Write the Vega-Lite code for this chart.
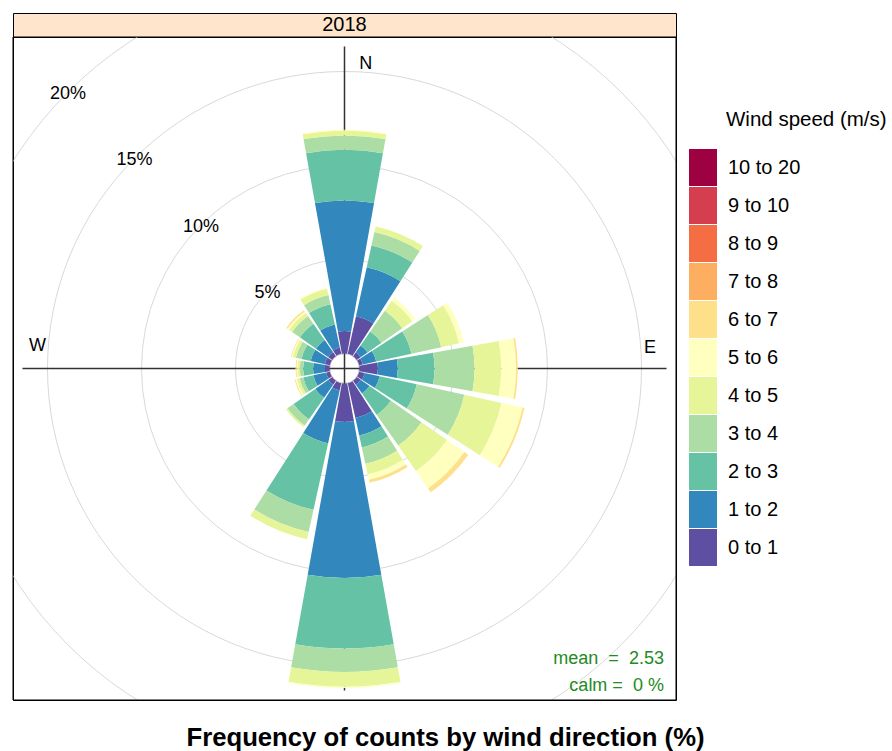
{
  "$schema": "https://vega.github.io/schema/vega-lite/v6.json",
  "background": "white",
  "padding": {"left": 12, "top": 12, "right": 0, "bottom": 0},
  "config": {"font": "Liberation Sans", "view": {"stroke": "black", "strokeWidth": 1}},
  "title": {"text": "Frequency of counts by wind direction (%)", "orient": "bottom", "anchor": "middle", "frame": "bounds", "fontSize": 25.7, "fontWeight": "bold", "color": "black", "baseline": "alphabetic", "offset": 45, "dx": -4},
  "spacing": 0,
  "bounds": "flush",
  "datasets": {
    "rose": [
      {"dir": 0, "speed": "0 to 1", "freq": 1.19}, {"dir": 0, "speed": "1 to 2", "freq": 6.95}, {"dir": 0, "speed": "2 to 3", "freq": 2.69}, {"dir": 0, "speed": "3 to 4", "freq": 0.77}, {"dir": 0, "speed": "4 to 5", "freq": 0.26}, {"dir": 0, "speed": "5 to 6", "freq": 0.04},
      {"dir": 22.5, "speed": "0 to 1", "freq": 2.05}, {"dir": 22.5, "speed": "1 to 2", "freq": 2.67}, {"dir": 22.5, "speed": "2 to 3", "freq": 1.18}, {"dir": 22.5, "speed": "3 to 4", "freq": 0.73}, {"dir": 22.5, "speed": "4 to 5", "freq": 0.31},
      {"dir": 45, "speed": "0 to 1", "freq": 0.25}, {"dir": 45, "speed": "1 to 2", "freq": 0.45}, {"dir": 45, "speed": "2 to 3", "freq": 0.9}, {"dir": 45, "speed": "3 to 4", "freq": 1.35}, {"dir": 45, "speed": "4 to 5", "freq": 0.65}, {"dir": 45, "speed": "5 to 6", "freq": 0.2},
      {"dir": 67.5, "speed": "0 to 1", "freq": 0.2}, {"dir": 67.5, "speed": "1 to 2", "freq": 0.73}, {"dir": 67.5, "speed": "2 to 3", "freq": 1.92}, {"dir": 67.5, "speed": "3 to 4", "freq": 1.62}, {"dir": 67.5, "speed": "4 to 5", "freq": 0.97}, {"dir": 67.5, "speed": "5 to 6", "freq": 0.26},
      {"dir": 90, "speed": "0 to 1", "freq": 0.98}, {"dir": 90, "speed": "1 to 2", "freq": 1.06}, {"dir": 90, "speed": "2 to 3", "freq": 1.95}, {"dir": 90, "speed": "3 to 4", "freq": 2.13}, {"dir": 90, "speed": "4 to 5", "freq": 1.42}, {"dir": 90, "speed": "5 to 6", "freq": 0.79}, {"dir": 90, "speed": "6 to 7", "freq": 0.09},
      {"dir": 112.5, "speed": "0 to 1", "freq": 0.3}, {"dir": 112.5, "speed": "1 to 2", "freq": 0.82}, {"dir": 112.5, "speed": "2 to 3", "freq": 2.02}, {"dir": 112.5, "speed": "3 to 4", "freq": 2.59}, {"dir": 112.5, "speed": "4 to 5", "freq": 2.02}, {"dir": 112.5, "speed": "5 to 6", "freq": 1.15}, {"dir": 112.5, "speed": "6 to 7", "freq": 0.1},
      {"dir": 135, "speed": "0 to 1", "freq": 0.25}, {"dir": 135, "speed": "1 to 2", "freq": 0.58}, {"dir": 135, "speed": "2 to 3", "freq": 1.38}, {"dir": 135, "speed": "3 to 4", "freq": 1.99}, {"dir": 135, "speed": "4 to 5", "freq": 1.65}, {"dir": 135, "speed": "5 to 6", "freq": 1.13}, {"dir": 135, "speed": "6 to 7", "freq": 0.25},
      {"dir": 157.5, "speed": "0 to 1", "freq": 1.9}, {"dir": 157.5, "speed": "1 to 2", "freq": 0.95}, {"dir": 157.5, "speed": "2 to 3", "freq": 0.65}, {"dir": 157.5, "speed": "3 to 4", "freq": 0.89}, {"dir": 157.5, "speed": "4 to 5", "freq": 0.57}, {"dir": 157.5, "speed": "5 to 6", "freq": 0.3}, {"dir": 157.5, "speed": "6 to 7", "freq": 0.17},
      {"dir": 180, "speed": "0 to 1", "freq": 2.04}, {"dir": 180, "speed": "1 to 2", "freq": 8.3}, {"dir": 180, "speed": "2 to 3", "freq": 3.76}, {"dir": 180, "speed": "3 to 4", "freq": 1.24}, {"dir": 180, "speed": "4 to 5", "freq": 0.79}, {"dir": 180, "speed": "5 to 6", "freq": 0.07},
      {"dir": 202.5, "speed": "0 to 1", "freq": 0.4}, {"dir": 202.5, "speed": "1 to 2", "freq": 2.87}, {"dir": 202.5, "speed": "2 to 3", "freq": 3.63}, {"dir": 202.5, "speed": "3 to 4", "freq": 1.2}, {"dir": 202.5, "speed": "4 to 5", "freq": 0.4},
      {"dir": 225, "speed": "0 to 1", "freq": 0.25}, {"dir": 225, "speed": "1 to 2", "freq": 0.85}, {"dir": 225, "speed": "2 to 3", "freq": 1.4}, {"dir": 225, "speed": "3 to 4", "freq": 0.4}, {"dir": 225, "speed": "4 to 5", "freq": 0.1},
      {"dir": 247.5, "speed": "0 to 1", "freq": 0.2}, {"dir": 247.5, "speed": "1 to 2", "freq": 0.7}, {"dir": 247.5, "speed": "2 to 3", "freq": 0.55}, {"dir": 247.5, "speed": "3 to 4", "freq": 0.2}, {"dir": 247.5, "speed": "4 to 5", "freq": 0.15}, {"dir": 247.5, "speed": "5 to 6", "freq": 0.07}, {"dir": 247.5, "speed": "6 to 7", "freq": 0.05},
      {"dir": 270, "speed": "0 to 1", "freq": 0.25}, {"dir": 270, "speed": "1 to 2", "freq": 0.62}, {"dir": 270, "speed": "2 to 3", "freq": 0.53}, {"dir": 270, "speed": "3 to 4", "freq": 0.18}, {"dir": 270, "speed": "4 to 5", "freq": 0.12}, {"dir": 270, "speed": "5 to 6", "freq": 0.06}, {"dir": 270, "speed": "6 to 7", "freq": 0.05},
      {"dir": 292.5, "speed": "0 to 1", "freq": 0.27}, {"dir": 292.5, "speed": "1 to 2", "freq": 0.78}, {"dir": 292.5, "speed": "2 to 3", "freq": 0.5}, {"dir": 292.5, "speed": "3 to 4", "freq": 0.3}, {"dir": 292.5, "speed": "4 to 5", "freq": 0.17}, {"dir": 292.5, "speed": "5 to 6", "freq": 0.06}, {"dir": 292.5, "speed": "6 to 7", "freq": 0.04},
      {"dir": 315, "speed": "0 to 1", "freq": 0.27}, {"dir": 315, "speed": "1 to 2", "freq": 0.78}, {"dir": 315, "speed": "2 to 3", "freq": 1.05}, {"dir": 315, "speed": "3 to 4", "freq": 0.5}, {"dir": 315, "speed": "4 to 5", "freq": 0.2}, {"dir": 315, "speed": "5 to 6", "freq": 0.1}, {"dir": 315, "speed": "6 to 7", "freq": 0.08},
      {"dir": 337.5, "speed": "0 to 1", "freq": 0.35}, {"dir": 337.5, "speed": "1 to 2", "freq": 1.25}, {"dir": 337.5, "speed": "2 to 3", "freq": 1.1}, {"dir": 337.5, "speed": "3 to 4", "freq": 0.5}, {"dir": 337.5, "speed": "4 to 5", "freq": 0.35}, {"dir": 337.5, "speed": "5 to 6", "freq": 0.05}
    ],
    "grid": [{"pct": 5, "label": "5%"}, {"pct": 10, "label": "10%"}, {"pct": 15, "label": "15%"}, {"pct": 20, "label": "20%"}],
    "compass": [{"label": "N", "ang": 4.0, "rad": 15.44}, {"label": "E", "ang": 86.07, "rad": 15.49}, {"label": "W", "ang": 274.1, "rad": 15.57}],
    "cross": [{"xa": -17.13, "xb": 17.13, "ya": 0, "yb": 0}, {"xa": 0, "xb": 0, "ya": -17.13, "yb": 17.13}],
    "stats": [{"label": "mean\u00a0 =\u00a0 2.53", "x": 16.99, "y": -15.45}, {"label": "calm =\u00a0 0 %", "x": 16.99, "y": -16.89}]
  },
  "vconcat": [
    {
      "width": 663,
      "height": 24,
      "view": {"fill": "#FFE5CC", "stroke": "black", "strokeWidth": 1},
      "data": {"values": [{"panel": "2018"}]},
      "mark": {"type": "text", "fontSize": 20, "color": "black"},
      "encoding": {"text": {"field": "panel", "type": "nominal"}}
    },
    {
      "width": 663,
      "height": 663,
      "layer": [
        {
          "data": {"name": "grid"},
          "mark": {"type": "arc", "filled": false, "fillOpacity": 0, "stroke": "#d9d9d9", "strokeWidth": 1, "clip": true},
          "encoding": {
            "theta": {"datum": 0, "type": "quantitative", "scale": {"type": "linear", "domain": [0, 360], "range": [0, 6.283185307179586], "zero": false, "nice": false}},
            "theta2": {"datum": 360},
            "radius": {"field": "pct", "type": "quantitative", "stack": null, "scale": {"type": "linear", "domain": [0, 20], "range": [15, 391], "zero": false, "nice": false}}
          }
        },
        {
          "data": {"name": "grid"},
          "mark": {"type": "text", "fontSize": 18, "color": "black", "dy": 2},
          "encoding": {
            "theta": {"datum": 315, "type": "quantitative"},
            "radius": {"field": "pct", "type": "quantitative", "stack": null},
            "text": {"field": "label", "type": "nominal"}
          }
        },
        {
          "data": {"name": "compass"},
          "mark": {"type": "text", "fontSize": 18, "color": "black"},
          "encoding": {
            "theta": {"field": "ang", "type": "quantitative", "stack": null},
            "radius": {"field": "rad", "type": "quantitative", "stack": null},
            "text": {"field": "label", "type": "nominal"}
          }
        },
        {
          "data": {"name": "cross"},
          "mark": {"type": "rule", "color": "#333333", "strokeWidth": 1.5},
          "encoding": {
            "x": {"field": "xa", "type": "quantitative", "axis": null, "scale": {"domain": [-17.633, 17.633], "zero": false, "nice": false}},
            "x2": {"field": "xb"},
            "y": {"field": "ya", "type": "quantitative", "axis": null, "scale": {"domain": [-17.633, 17.633], "zero": false, "nice": false}},
            "y2": {"field": "yb"}
          }
        },
        {
          "data": {"name": "rose"},
          "transform": [
            {"stack": "freq", "groupby": ["dir"], "sort": [{"field": "speed", "order": "ascending"}], "as": ["r0", "r1"]},
            {"calculate": "datum.dir - 10.125", "as": "a0"},
            {"calculate": "datum.dir + 10.125", "as": "a1"}
          ],
          "mark": {"type": "arc"},
          "encoding": {
            "theta": {"field": "a0", "type": "quantitative", "stack": null},
            "theta2": {"field": "a1"},
            "radius": {"field": "r0", "type": "quantitative", "stack": null},
            "radius2": {"field": "r1"},
            "color": {
              "field": "speed", "type": "nominal",
              "scale": {
                "domain": ["0 to 1", "1 to 2", "2 to 3", "3 to 4", "4 to 5", "5 to 6", "6 to 7", "7 to 8", "8 to 9", "9 to 10", "10 to 20"],
                "range": ["#5E4FA2", "#3288BD", "#66C2A5", "#ABDDA4", "#E6F598", "#FFFFBF", "#FEE08B", "#FDAE61", "#F46D43", "#D53E4F", "#9E0142"]
              },
              "legend": {
                "orient": "none", "legendX": 676, "legendY": 97,
                "title": "Wind speed (m/s)", "titleFontSize": 20.5, "titleFontWeight": "normal", "titleColor": "black", "titlePadding": 23,
                "values": ["10 to 20", "9 to 10", "8 to 9", "7 to 8", "6 to 7", "5 to 6", "4 to 5", "3 to 4", "2 to 3", "1 to 2", "0 to 1"],
                "symbolType": "M-1,-1.33H1V1.33H-1Z", "symbolSize": 784, "symbolStrokeWidth": 0, "symbolOpacity": 1,
                "labelFontSize": 20, "labelColor": "black", "labelOffset": 11, "rowPadding": 0,
                "encoding": {"title": {"dx": {"value": 37}}}
              }
            }
          }
        },
        {
          "data": {"name": "stats"},
          "mark": {"type": "text", "fontSize": 18, "color": "#228B22", "align": "right", "baseline": "middle"},
          "encoding": {
            "x": {"field": "x", "type": "quantitative"},
            "y": {"field": "y", "type": "quantitative"},
            "text": {"field": "label", "type": "nominal"}
          }
        },
        {
          "data": {"values": [{"frame": "panel"}]},
          "mark": {"type": "rect", "filled": false, "fillOpacity": 0, "stroke": "black", "strokeWidth": 1},
          "encoding": {
            "x": {"datum": -17.633, "type": "quantitative"},
            "x2": {"datum": 17.633},
            "y": {"datum": -17.633, "type": "quantitative"},
            "y2": {"datum": 17.633}
          }
        }
      ]
    }
  ]
}
